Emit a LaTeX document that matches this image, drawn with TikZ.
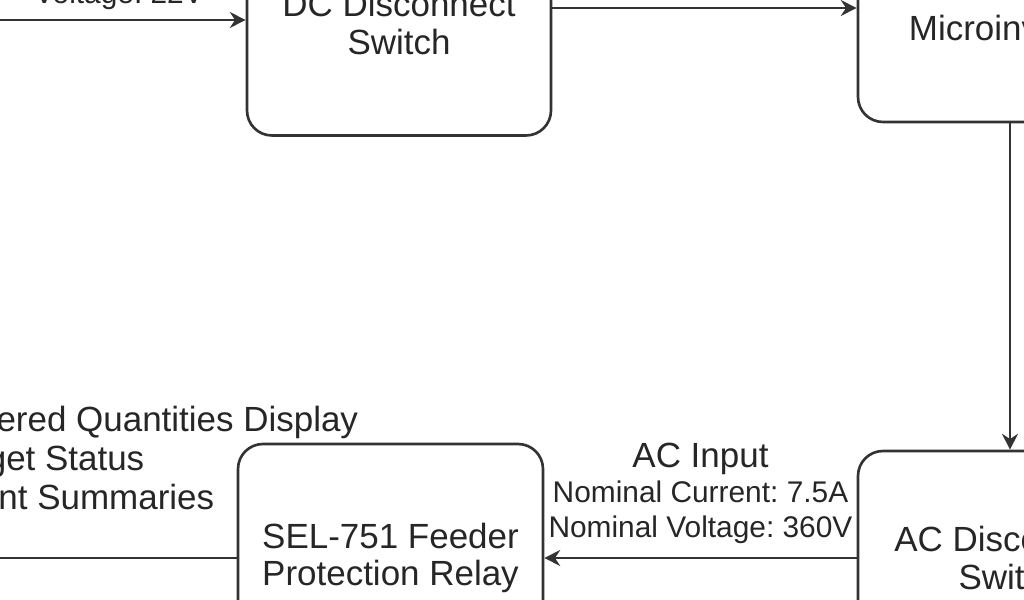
\documentclass[tikz,border=0pt]{standalone}
\usepackage{fontspec}
\setmainfont{Liberation Sans}
\usetikzlibrary{arrows.meta}
\frenchspacing

\tikzset{
	blockbox/.style={draw=black!80, line width=1.5pt, rounded corners=0.5cm, align=center, minimum width=6.08cm, text=black!85, font=\fontsize{19.9}{21.5}\selectfont},
	flowline/.style={draw=black!80, line width=1.5pt},
	flowarrow/.style={flowline, -{Stealth[length=9pt,width=9pt]}},
	smalltext/.style={text=black!85, font=\fontsize{17}{19.9}\selectfont},
	bigtext/.style={text=black!85, font=\fontsize{19.9}{22.2}\selectfont}
}

\begin{document}
\begin{tikzpicture}
	
	\useasboundingbox (0,0) rectangle (20.48,12);
	\clip (0,0) rectangle (20.48,12);
	
	% blocks
	\node[blockbox, minimum height=4.5cm] (dcswitch) at (7.98,11.54) {DC Disconnect\\Switch};
	\node[blockbox, minimum height=3.76cm] (microinv) at (20.2,11.44) {Microinverter};
	\node[blockbox, minimum height=4.28cm] (acswitch) at (20.2,0.84) {AC Disconnect\\Switch};
	\node[blockbox, minimum height=4.56cm, minimum width=6.1cm] (relay) at (7.81,0.84) {SEL-751 Feeder\\Protection Relay};
	
	% ends outside the frame
	\coordinate (dcin) at (-1,11.6);
	\coordinate (relayout) at (-1,0.84);
	
	\node[smalltext, anchor=base east] (dcinlabel) at (4.2,11.92) {Voltage: 22V};
	\node[bigtext, anchor=base west, align=left] (relaylabel) at (-1.36,1.8) {Metered Quantities Display\\Target Status\\Event Summaries};
	
	% connectors
	\draw[flowarrow] (dcin) -- (dcin -| dcswitch.west);
	\draw[flowarrow] (dcswitch.east |- 0,11.84) -- (microinv.west |- 0,11.84);
	\draw[flowarrow] (microinv.south) -- (acswitch.north);
	\draw[flowarrow] (acswitch.west) -- (relay.east)
		node[midway, above=4pt, smalltext, align=center] (aclabel) {{\fontsize{19.9}{22}\selectfont AC Input}\\Nominal Current: 7.5A\\Nominal Voltage: 360V};
	\draw[flowline] (relay.west) -- (relayout);
	
\end{tikzpicture}
\end{document}
